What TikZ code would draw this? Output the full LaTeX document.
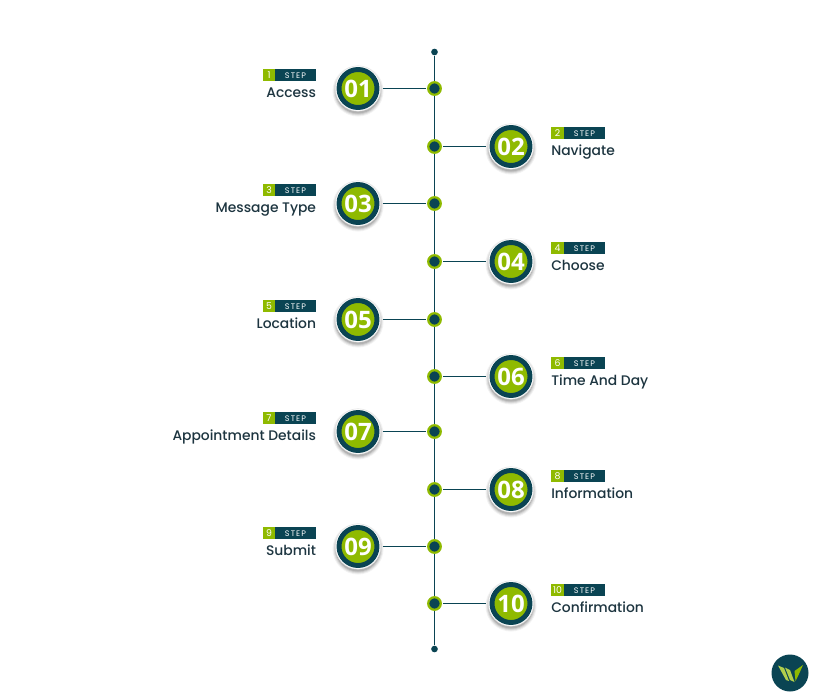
\documentclass[tikz,border=0pt]{standalone}
\usepackage{fontspec}
\setmainfont{Poppins}
\newfontfamily\titlefont{Poppins Medium}
\newfontfamily\numfont{Open Sans}
\newfontfamily\stepfont[LetterSpace=14]{Poppins}
\definecolor{dk}{HTML}{0A4453}
\definecolor{gr}{HTML}{8FBA00}
\definecolor{tx}{HTML}{1D3540}
\tikzset{
  spine/.style={draw=dk,line width=1.2pt},
  link/.style={draw=dk,line width=0.75pt},
  enddot/.style={circle,fill=dk,inner sep=0pt,minimum size=5pt},
  hub/.style={circle,fill=dk,draw=gr,line width=1.7pt,inner sep=0pt,minimum size=9.4pt,outer sep=2pt},
  ring/.style={circle,fill=gr,draw=dk,line width=3.7pt,inner sep=0pt,minimum size=28.5pt,text=white,font=\numfont\bfseries\fontsize{18}{18}\selectfont},
  halo/.style={circle,fill=white,draw=black!12,line width=0.3pt,inner sep=0pt,minimum size=34pt,outer sep=1.5pt},
  greentag/.style={fill=gr,text=white,inner sep=0pt,minimum height=9pt,font=\fontsize{7}{7}\selectfont},
  darktag/.style={fill=dk,text=white,inner sep=0pt,minimum height=9pt,font=\stepfont\fontsize{6}{6}\selectfont},
  title/.style={text=tx,inner sep=0pt,font=\titlefont\fontsize{10.4}{12}\selectfont}
}
\newcommand{\softshadow}[2]{%
  \foreach \r/\o in {25.5/.05,24.5/.07,23.5/.09,22.5/.12}{\fill[black,opacity=\o] (#1,#2+2.5) circle[radius=\r];}%
}
\newcommand{\leftstep}[4]{% index, digits, y, text
  \softshadow{358}{#3+0.5}
  \node[halo] (h#1) at (358,#3+0.5) {};
  \node[ring] (c#1) at (358,#3+0.5) {#2};
  \node[hub] (d#1) at (434.5,#3+0.5) {};
  \draw[link] (h#1) -- (d#1);
  \node[greentag,minimum width=9pt] (g#1) at (269,#3-12.6) {#1};
  \node[darktag,minimum width=30.8pt] (s#1) at (295.5,#3-12.6) {STEP};
  \node[title,anchor=base east] (t#1) at (316.3,#3+9.7) {#4};
}
\newcommand{\rightstep}[4]{%
  \softshadow{511}{#3+0.5}
  \node[halo] (h#1) at (511,#3+0.5) {};
  \node[ring] (c#1) at (511,#3+0.5) {#2};
  \node[hub] (d#1) at (434.5,#3+0.5) {};
  \draw[link] (d#1) -- (h#1);
  \node[greentag,minimum width=9.8pt] (g#1) at (557.5,#3-12.6) {#1};
  \node[darktag,minimum width=30.8pt] (s#1) at (584.5,#3-12.6) {STEP};
  \node[title,anchor=base west] (t#1) at (551,#3+9.7) {#4};
}
\begin{document}
\begin{tikzpicture}[x=0.75pt,y=-0.75pt]
\useasboundingbox (0,0) rectangle (818,700);
\fill[white] (0,0) rectangle (818,700);
\node[enddot] (top) at (434.5,52) {};
\node[enddot] (bot) at (434.5,649) {};
\draw[spine] (top) -- (bot);
\leftstep{1}{01}{88}{Access}
\rightstep{2}{02}{146}{Navigate}
\leftstep{3}{03}{203}{Message Type}
\rightstep{4}{04}{261}{Choose}
\leftstep{5}{05}{319}{Location}
\rightstep{6}{06}{376}{Time And Day}
\leftstep{7}{07}{431}{Appointment Details}
\rightstep{8}{08}{489}{Information}
\leftstep{9}{09}{546}{Submit}
\rightstep{10}{10}{603}{Confirmation}
% logo
\fill[dk] (790,673) circle[radius=18.5];
\fill[gr!70!white] (778,665.5) -- (786,680) -- (789,681) -- (784,668) -- cycle;
\fill[gr!70!white] (785,667.5) -- (790,670) -- (794.5,682) -- (790,680) -- cycle;
\fill[gr] (794.5,671) -- (803,665) -- (799,674) -- (795.5,681) -- cycle;
\end{tikzpicture}
\end{document}
